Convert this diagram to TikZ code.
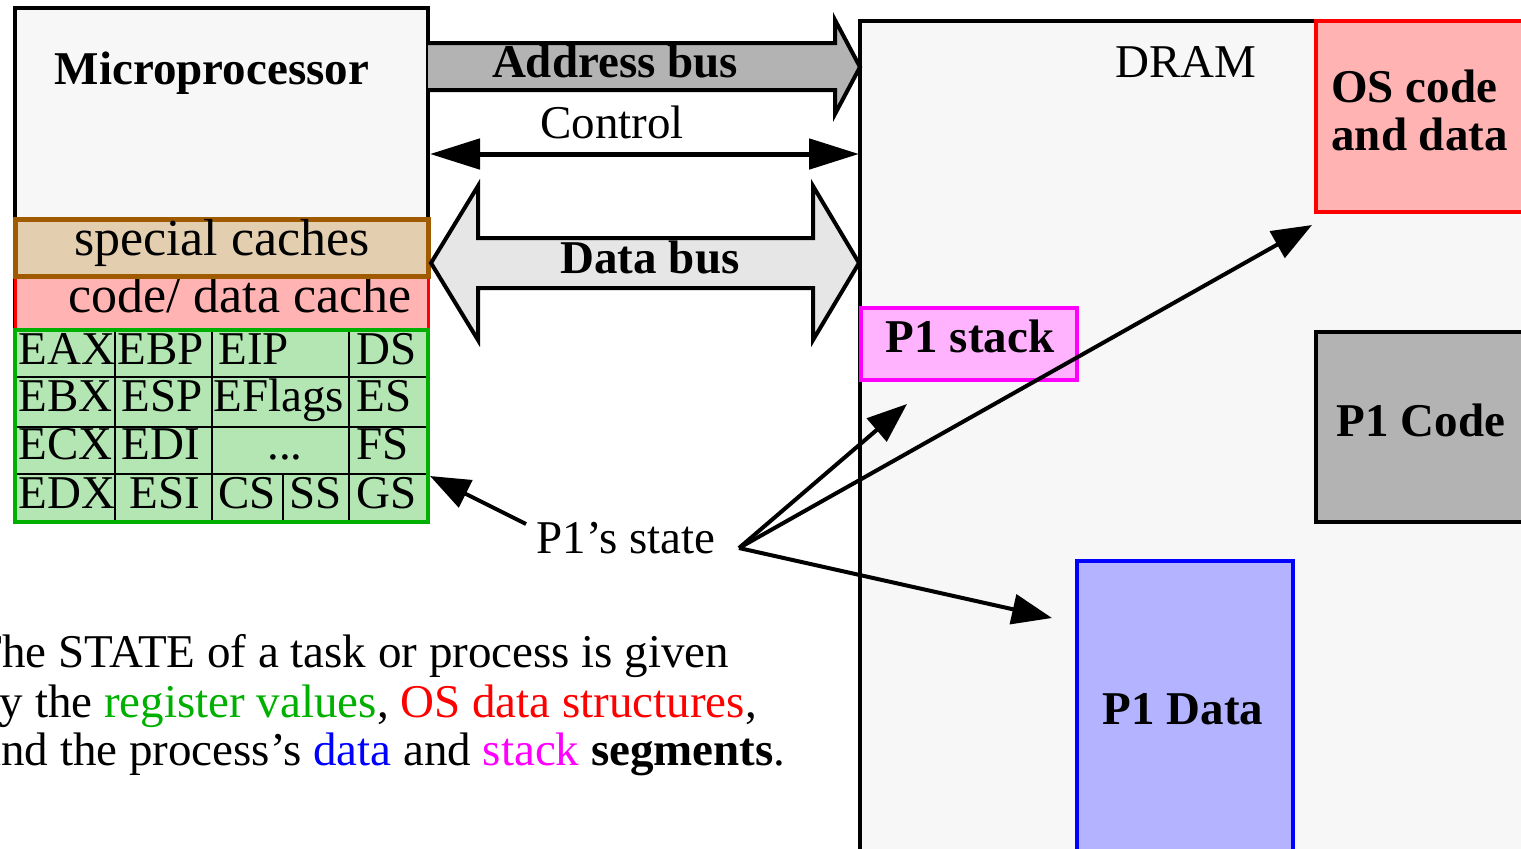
\documentclass[tikz,border=0pt]{standalone}
\usepackage{fontspec}
\setmainfont{Liberation Serif}
\usetikzlibrary{arrows.meta}
\definecolor{boxgray}{HTML}{F7F7F7}
\definecolor{busgray}{HTML}{B3B3B3}
\definecolor{datagray}{HTML}{E6E6E6}
\definecolor{cachebrown}{HTML}{A05A00}
\definecolor{cachetan}{HTML}{E3CFB0}
\definecolor{cachepink}{HTML}{FFB3B3}
\definecolor{reggreen}{HTML}{00B000}
\definecolor{regfill}{HTML}{B3E6B3}
\definecolor{stackmag}{HTML}{FF00FF}
\definecolor{stackpink}{HTML}{FFB3FF}
\definecolor{datablue}{HTML}{B3B3FF}
\definecolor{pureblue}{HTML}{0000FF}
\definecolor{purered}{HTML}{FF0000}
\begin{document}
\begin{tikzpicture}[x=0.5pt,y=-0.5pt,line join=miter,font=\fontsize{23.5}{28}\selectfont,
	bx/.style={line width=2pt},
	lbl/.style={inner sep=0pt,anchor=base},
	bold/.style={lbl,font=\fontsize{23.5}{28}\selectfont\bfseries},
	reg/.style={inner sep=0pt,anchor=base west},
	ptr/.style={line width=2pt,-{Triangle[length=20pt,width=15pt]}}]
	\clip (0,0) rectangle (1521,848);
	% memory side
	\draw[bx,fill=boxgray] (860,21) rectangle (1560,880);
	\node[lbl] (dram) at (1186,77) {DRAM};
	\draw[bx,draw=purered,fill=cachepink] (1316,21) rectangle (1560,212);
	\node[bold,anchor=base west] (os) at (1331,102) {OS code};
	\node[bold,anchor=base west] (osb) at (1331,150) {and data};
	\draw[bx,fill=busgray] (1316,332) rectangle (1560,522);
	\node[bold] (code) at (1421,436) {P1 Code};
	\draw[bx,draw=pureblue,fill=datablue] (1077,561) rectangle (1293,880);
	\node[bold] (data) at (1183,724) {P1 Data};
	\draw[bx,draw=stackmag,fill=stackpink] (861,308) rectangle (1077,380);
	\node[bold] (stack) at (970,352) {P1 stack};
	% processor side
	\draw[bx,fill=boxgray] (15,8) rectangle (428,522);
	\node[lbl,font=\fontsize{23.5}{28}\selectfont\bfseries] (cpu) at (212,84) {Microprocessor};
	\draw[line width=1.5pt,draw=purered,fill=cachepink] (15,276) rectangle (428,330);
	\node[lbl,font=\fontsize{26}{30}\selectfont] (dcache) at (240,312) {code/ data cache};
	\draw[line width=2.5pt,draw=cachebrown,fill=cachetan] (15,219) rectangle (428,276);
	\node[lbl,font=\fontsize{26}{30}\selectfont] (scache) at (222,255) {special caches};
	\fill[regfill] (15,330) rectangle (428,522);
	\draw[line width=0.75pt] (15,377) -- (428,377) (15,427) -- (428,427) (15,474) -- (428,474)
		(115,330) -- (115,522) (212,330) -- (212,522) (349,330) -- (349,522) (283,474) -- (283,522);
	\draw[bx,draw=reggreen] (15,330) rectangle (428,522);
	\node[reg] (eax) at (18,364) {EAX};
	\node[reg] (ebp) at (117,364) {EBP};
	\node[reg] (eip) at (218,364) {EIP};
	\node[reg] (ds) at (356,364) {DS};
	\node[reg] (ebx) at (18,411) {EBX};
	\node[reg] (esp) at (121,411) {ESP};
	\node[reg] (efl) at (213,411) {EFlags};
	\node[reg] (es) at (356,411) {ES};
	\node[reg] (ecx) at (18,459) {ECX};
	\node[reg] (edi) at (121,459) {EDI};
	\node[lbl] (dots) at (285,459) {...};
	\node[reg] (fs) at (356,459) {FS};
	\node[reg] (edx) at (18,508) {EDX};
	\node[reg] (esi) at (129,508) {ESI};
	\node[reg] (cs) at (218,508) {CS};
	\node[reg] (ss) at (289,508) {SS};
	\node[reg] (gs) at (356,508) {GS};
	% buses
	\draw[bx,fill=busgray] (428,43) -- (835,43) -- (835,20) -- (860,67) -- (835,114) -- (835,90) -- (428,90);
	\node[bold] (abus) at (615,77) {Address bus};
	\coordinate (ctlL) at (430,154);
	\coordinate (ctlR) at (859,154);
	\draw[line width=2.5pt,{Triangle[length=25pt,width=15pt]}-{Triangle[length=25pt,width=15pt]}] (ctlL) -- (ctlR);
	\node[lbl] (ctl) at (612,138) {Control};
	\draw[bx,fill=datagray] (431,263) -- (478,186) -- (478,238) -- (813,238) -- (813,186) -- (859,263)
		-- (813,340) -- (813,288) -- (478,288) -- (478,340) -- cycle;
	\node[bold] (dbus) at (650,273) {Data bus};
	% state pointers
	\node[lbl] (state) at (626,553) {P1’s state};
	\coordinate (fork) at (739,548);
	\coordinate (toregs) at (430,476);
	\coordinate (tostack) at (907,404);
	\coordinate (toos) at (1312,225);
	\coordinate (todata) at (1052,618);
	\draw[ptr] (526,524) -- (toregs);
	\draw[ptr] (fork) -- (tostack);
	\draw[ptr] (fork) -- (toos);
	\draw[ptr] (fork) -- (todata);
	% caption
	\node[reg] (capa) at (-27,667) {The STATE of a task or process is given};
	\node[reg] (capb) at (-24,717) {by the \textcolor{reggreen}{register values}, \textcolor{purered}{OS data structures},};
	\node[reg] (capc) at (-20,765) {and the process’s \textcolor{pureblue}{data} and \textcolor{stackmag}{stack} \textbf{segments}.};
\end{tikzpicture}
\end{document}
